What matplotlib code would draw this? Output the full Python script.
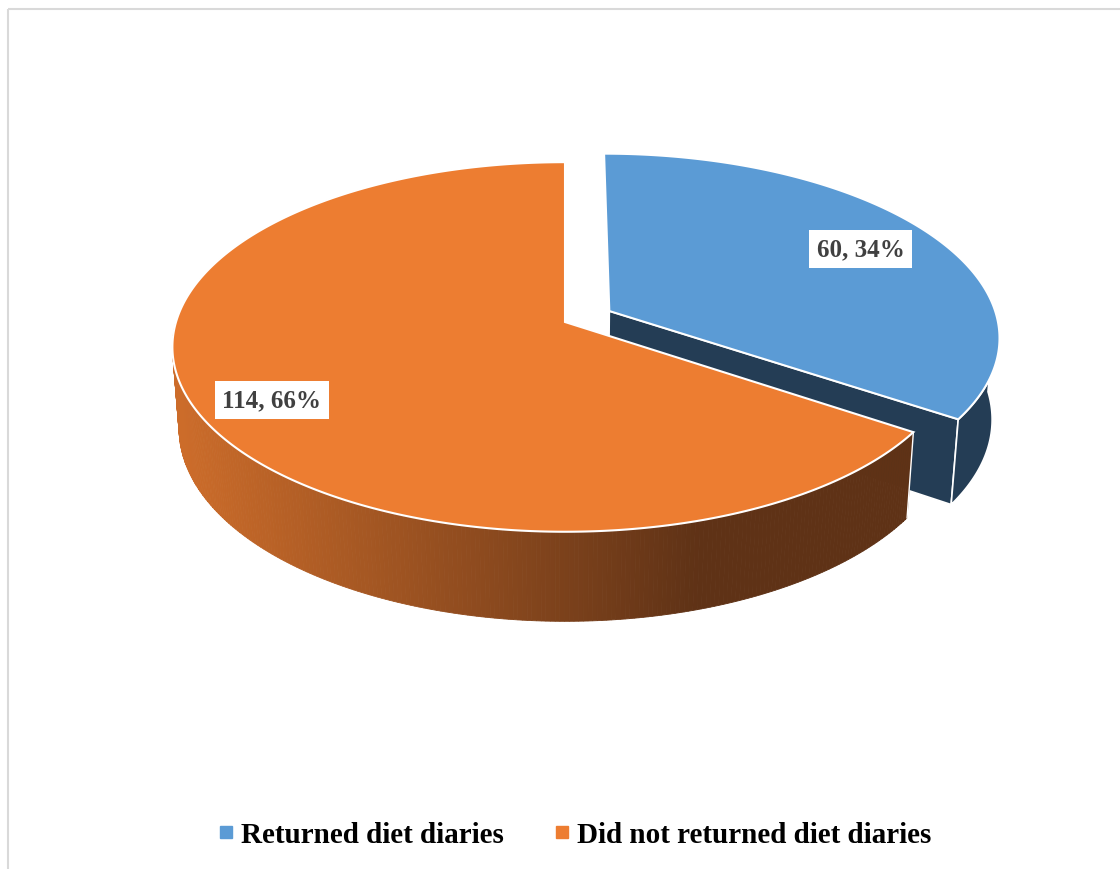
import numpy as np
import matplotlib
matplotlib.use("Agg")
import matplotlib.pyplot as plt
from matplotlib.patches import Polygon, Rectangle
from matplotlib.lines import Line2D

# data
labels = ["Returned diet diaries", "Did not returned diet diaries"]
values = [60, 114]
top_colors = ["#5B9BD5", "#ED7D31"]
explode = [0.13, 0.0]

# ── projection setup (perspective 3D pie) ───────────────────────────────────
PHI = np.radians(27.8)
DIST = 6.55
FOC = 2548.0
SX, SY = 565.0, 323.0
THICK = 0.24

cam = np.array([0.0, -DIST * np.cos(PHI), DIST * np.sin(PHI)])
right = np.array([1.0, 0.0, 0.0])
up = np.array([0.0, np.sin(PHI), np.cos(PHI)])
fwd = np.array([0.0, np.cos(PHI), -np.sin(PHI)])


def proj(x, y, z):
    x = np.asarray(x, float)
    p = np.stack([x, np.asarray(y, float) + 0 * x, np.asarray(z, float) + 0 * x], axis=-1)
    rel = p - cam
    d = rel @ fwd
    return SX + FOC * (rel @ right) / d, SY - FOC * (rel @ up) / d


fig = plt.figure(figsize=(11.2, 8.7), dpi=100)
ax = fig.add_axes([0, 0, 1, 1])
ax.set_xlim(0, 1120)
ax.set_ylim(870, 0)
ax.axis("off")

# chart frame
ax.add_patch(Rectangle((8, 10), 1130, 880, fill=False, ec="#D9D9D9", lw=1.5))

total = sum(values)
angles = [0.0]
for v in values:
    angles.append(angles[-1] + 360.0 * v / total)

slices = []
for i, v in enumerate(values):
    a0 = 90.0 - angles[i]
    a1 = 90.0 - angles[i + 1]
    mid = np.radians((a0 + a1) / 2)
    ox, oy = explode[i] * np.cos(mid), explode[i] * np.sin(mid)
    slices.append((a0, a1, mid, ox, oy))


def ring(a0, a1, ox, oy, z, n=200):
    th = np.radians(np.linspace(a0, a1, n))
    return proj(ox + np.cos(th), oy + np.sin(th), z * np.ones_like(th))


orange_lo = np.array([204, 108, 42]) / 255
orange_hi = np.array([95, 50, 22]) / 255
wall_blue = "#243D55"

# blue slice (behind)
a0, a1, mid, ox, oy = slices[0]
ea = np.radians(a1)
cx_t, cy_t = proj(ox, oy, 0.0)
cx_b, cy_b = proj(ox, oy, -THICK)
ex_t, ey_t = proj(ox + np.cos(ea), oy + np.sin(ea), 0.0)
ex_b, ey_b = proj(ox + np.cos(ea), oy + np.sin(ea), -THICK)
ax.add_patch(Polygon([(cx_t, cy_t), (ex_t, ey_t), (ex_b, ey_b), (cx_b, cy_b)],
                     closed=True, fc=wall_blue, ec="white", lw=1.2, zorder=2))
tx, ty = ring(a1, 0.0, ox, oy, 0.0)
bx, by = ring(a1, 0.0, ox, oy, -THICK)
ax.add_patch(Polygon(np.column_stack([np.r_[tx, bx[::-1]], np.r_[ty, by[::-1]]]),
                     closed=True, fc=wall_blue, ec="white", lw=1.2, zorder=2))
tx, ty = ring(a0, a1, ox, oy, 0.0)
ax.add_patch(Polygon(np.column_stack([np.r_[cx_t, tx], np.r_[cy_t, ty]]),
                     closed=True, fc=top_colors[0], ec="white", lw=1.5, zorder=3))

# orange slice (front), outer wall with horizontal gradient
a0, a1, mid, ox, oy = slices[1]
n_seg = 240
edges = np.linspace(-180.0, a0, n_seg + 1)
for k in range(n_seg):
    tx, ty = ring(edges[k], edges[k + 1], ox, oy, 0.0, n=4)
    bx, by = ring(edges[k], edges[k + 1], ox, oy, -THICK, n=4)
    f = np.clip((tx.mean() - 180.0) / (700.0 - 180.0), 0, 1)
    col = orange_lo + (orange_hi - orange_lo) * f
    ax.add_patch(Polygon(np.column_stack([np.r_[tx, bx[::-1]], np.r_[ty, by[::-1]]]),
                         closed=True, fc=col, ec=col, lw=0.6, zorder=4))
ea = np.radians(a0)
ex_t, ey_t = proj(ox + np.cos(ea), oy + np.sin(ea), 0.0)
ex_b, ey_b = proj(ox + np.cos(ea), oy + np.sin(ea), -THICK)
ax.plot([ex_t, ex_b], [ey_t, ey_b], color="white", lw=1.0, zorder=4.5)
cx_t, cy_t = proj(ox, oy, 0.0)
tx, ty = ring(a0, a1, ox, oy, 0.0, n=400)
ax.add_patch(Polygon(np.column_stack([np.r_[cx_t, tx], np.r_[cy_t, ty]]),
                     closed=True, fc=top_colors[1], ec="white", lw=1.5, zorder=5))

# data labels
lab_r = [0.78, 0.81]
for i, v in enumerate(values):
    a0, a1, mid, ox, oy = slices[i]
    lx, ly = proj(ox + lab_r[i] * np.cos(mid), oy + lab_r[i] * np.sin(mid), 0.0)
    pct = round(100 * v / total)
    ax.text(lx, ly + (5 if i == 1 else 0), f"{v}, {pct}%", ha="center", va="center", fontsize=18,
            fontweight="bold", family="Liberation Serif", color="#404040", zorder=6,
            bbox=dict(boxstyle="square,pad=0.3", fc="white", ec="none"))

handles = [Line2D([], [], ls="none", marker="s", ms=8, mfc=c, mec=c) for c in top_colors]
fig.legend(handles, labels, loc="center", bbox_to_anchor=(573 / 1120, 1 - 836 / 870),
           ncol=2, frameon=False, handletextpad=0.1, columnspacing=1.6, handlelength=0.8,
           prop=dict(family="Liberation Serif", weight="bold", size=21))

fig.savefig("out.png", dpi=100)
